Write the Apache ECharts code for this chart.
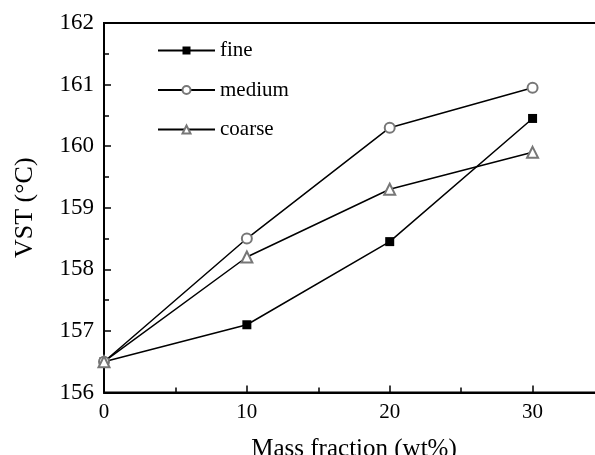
<!DOCTYPE html>
<html>
<head>
<meta charset="utf-8">
<script src="https://cdn.jsdelivr.net/npm/echarts@6/dist/echarts.min.js"></script>
<style>
  html, body { margin: 0; padding: 0; background: #fff; }
  #chart { width: 595px; height: 455px; }
</style>
</head>
<body>
<div id="chart"></div>
<script>
// mass fraction (wt%)
const massFraction = [0, 10, 20, 30];
// VST values (°C)
const fine = [156.5, 157.1, 158.45, 160.45];
const medium = [156.5, 158.5, 160.3, 160.95];
const coarse = [156.5, 158.2, 159.3, 159.9];

const pairs = (ys) => massFraction.map((x, i) => [x, ys[i]]);
const serif = '"Liberation Serif", "DejaVu Serif", serif';

const chart = echarts.init(document.getElementById('chart'));

chart.setOption({
    backgroundColor: '#fff',
    animation: false,
    textStyle: { fontFamily: serif, color: '#000' },
    grid: {
        left: 104, top: 23, width: 500, height: 369.5,
        outerBoundsMode: 'none', containLabel: false,
        show: true, borderColor: '#000', borderWidth: 2, backgroundColor: 'transparent'
    },
    legend: {
        orient: 'vertical',
        left: 152, top: 35,
        itemWidth: 57, itemHeight: 10, itemGap: 18.5,
        textStyle: { fontFamily: serif, fontSize: 21, color: '#000' },
        data: ['fine', 'medium', 'coarse']
    },
    xAxis: {
        type: 'value',
        min: 0, max: 35, interval: 10,
        name: 'Mass fraction (wt%)',
        nameLocation: 'middle', nameGap: 44,
        nameTextStyle: { fontFamily: serif, fontSize: 25, color: '#000' },
        axisLine: { lineStyle: { color: '#000', width: 2 } },
        axisTick: { inside: true, length: 7, lineStyle: { color: '#000', width: 1.5 } },
        minorTick: { show: true, splitNumber: 2, length: 5, lineStyle: { color: '#000', width: 1.5 } },
        axisLabel: {
            fontFamily: serif, fontSize: 21, color: '#000', margin: 9,
            formatter: (v) => (v > 30 ? '' : String(v))
        },
        splitLine: { show: false }
    },
    yAxis: {
        type: 'value',
        min: 156, max: 162, interval: 1,
        name: 'VST (°C)',
        nameLocation: 'middle', nameGap: 66, nameRotate: 90,
        nameTextStyle: { fontFamily: serif, fontSize: 26, color: '#000' },
        axisLine: { lineStyle: { color: '#000', width: 2 } },
        axisTick: { inside: true, length: 7, lineStyle: { color: '#000', width: 1.5 } },
        minorTick: { show: true, splitNumber: 2, length: 5, lineStyle: { color: '#000', width: 1.5 } },
        axisLabel: { fontFamily: serif, fontSize: 23, color: '#000', margin: 10 },
        splitLine: { show: false }
    },
    series: [
        {
            name: 'fine', type: 'line', data: pairs(fine),
            symbol: 'rect', symbolSize: 9,
            itemStyle: { color: '#000' },
            lineStyle: { color: '#000', width: 1.5 }
        },
        {
            name: 'medium', type: 'line', data: pairs(medium),
            symbol: 'emptyCircle', symbolSize: 10,
            itemStyle: { color: '#777', borderColor: '#777', borderWidth: 1 },
            lineStyle: { color: '#000', width: 1.5 }
        },
        {
            name: 'coarse', type: 'line', data: pairs(coarse),
            symbol: 'emptyTriangle', symbolSize: 11,
            itemStyle: { color: '#777', borderColor: '#777', borderWidth: 1 },
            lineStyle: { color: '#000', width: 1.5 }
        }
    ]
});
</script>
</body>
</html>
